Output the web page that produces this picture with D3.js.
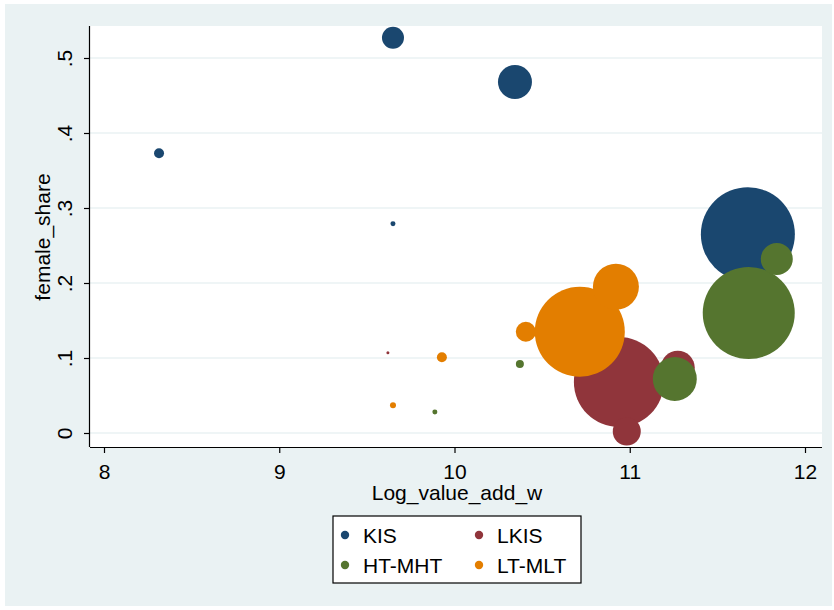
<!DOCTYPE html>
<html>
<head>
<meta charset="utf-8">
<script src="https://cdn.jsdelivr.net/npm/d3@7"></script>
<style>
  body { margin: 0; background: #fff; }
  text { font-family: "Liberation Sans", Arial, sans-serif; fill: #000; }
</style>
</head>
<body>
<script>
// groups in draw order (later ones sit on top)
var groups = ["KIS", "LKIS", "HT-MHT", "LT-MLT"];
var colors = ["#1a476f", "#90353b", "#55752f", "#e37e00"];

// log value added, female share, bubble weight
var kisX = [8.314, 9.649, 10.345, 9.649, 11.674];
var kisY = [0.373, 0.527, 0.468, 0.279, 0.265];
var kisW = [250, 1210, 2890, 62, 22090];

var lkisX = [9.62, 10.938, 10.983, 11.274];
var lkisY = [0.107, 0.068, 0.002, 0.087];
var lkisW = [22, 20250, 1960, 2890];

var htX = [9.888, 10.373, 11.257, 11.679, 11.839];
var htY = [0.028, 0.092, 0.072, 0.160, 0.232];
var htW = [62, 160, 4840, 21160, 2560];

var ltX = [9.649, 9.928, 10.407, 10.715, 10.921];
var ltY = [0.037, 0.101, 0.135, 0.135, 0.195];
var ltW = [90, 250, 1000, 20250, 5290];

var xTicks = [8, 9, 10, 11, 12];
var yTicks = [0, 0.1, 0.2, 0.3, 0.4, 0.5];
var yTickLabels = ["0", ".1", ".2", ".3", ".4", ".5"];

var width = 834, height = 610;
var plot = {left: 90, right: 822, top: 26, bottom: 447};
var fontSize = "21px";

var svg = d3.select("body").append("svg")
    .attr("width", width)
    .attr("height", height);

// outer graph region
svg.append("rect")
    .attr("x", 5).attr("y", 4)
    .attr("width", 827).attr("height", 602)
    .style("fill", "#eaf2f3");

svg.append("rect")
    .attr("x", plot.left).attr("y", plot.top)
    .attr("width", plot.right - plot.left).attr("height", plot.bottom - plot.top)
    .style("fill", "#fff");

var x = d3.scaleLinear().domain([8, 12]).range([104, 805]);
var y = d3.scaleLinear().domain([0, 0.5]).range([433, 58]);
var r = d3.scaleSqrt().domain([0, 22090]).range([0, 47]);

// gridlines
svg.append("g").selectAll("line")
    .data(yTicks)
  .enter().append("line")
    .attr("x1", plot.left).attr("x2", plot.right)
    .attr("y1", function(d) { return y(d); })
    .attr("y2", function(d) { return y(d); })
    .style("stroke", "#eaf2f3")
    .style("stroke-width", 1.6);

var series = [
  {name: groups[0], xs: kisX, ys: kisY, ws: kisW},
  {name: groups[1], xs: lkisX, ys: lkisY, ws: lkisW},
  {name: groups[2], xs: htX, ys: htY, ws: htW},
  {name: groups[3], xs: ltX, ys: ltY, ws: ltW}
];

series.forEach(function(s, i) {
  var pts = s.xs.map(function(v, j) { return {x: v, y: s.ys[j], w: s.ws[j]}; });
  svg.append("g").selectAll("circle")
      .data(pts)
    .enter().append("circle")
      .attr("cx", function(d) { return x(d.x); })
      .attr("cy", function(d) { return y(d.y); })
      .attr("r", function(d) { return Math.max(1.5, r(d.w)); })
      .style("fill", colors[i]);
});

// axes
var xAxis = svg.append("g")
    .attr("transform", "translate(0," + plot.bottom + ")")
    .call(d3.axisBottom(x).tickValues(xTicks).tickFormat(d3.format("d"))
      .tickSize(6).tickPadding(11).tickSizeOuter(0));
xAxis.select(".domain").attr("d", "M" + plot.left + ",0.5H" + plot.right);

var yAxis = svg.append("g")
    .attr("transform", "translate(" + plot.left + ",0)")
    .call(d3.axisLeft(y).tickValues(yTicks).tickSize(6).tickSizeOuter(0)
      .tickFormat(function(d, i) { return yTickLabels[i]; }));
yAxis.select(".domain").attr("d", "M-0.5," + plot.top + "V" + plot.bottom);

[xAxis, yAxis].forEach(function(a) {
  a.selectAll("path, line").style("stroke", "#000").style("stroke-width", 1.2);
  a.selectAll("text")
      .style("font-family", "Liberation Sans, Arial, sans-serif")
      .style("font-size", fontSize)
      .style("fill", "#000");
});

yAxis.selectAll(".tick text")
    .attr("x", null).attr("dy", null)
    .attr("text-anchor", "middle")
    .attr("transform", "translate(-18,0) rotate(-90)");

svg.append("text")
    .attr("x", 457).attr("y", 500)
    .attr("text-anchor", "middle")
    .style("font-size", fontSize)
    .text("Log_value_add_w");

svg.append("text")
    .attr("transform", "translate(50,237) rotate(-90)")
    .attr("text-anchor", "middle")
    .style("font-size", fontSize)
    .text("female_share");

// legend
var legend = svg.append("g").attr("transform", "translate(333,516)");
legend.append("rect")
    .attr("width", 248).attr("height", 67)
    .style("fill", "#fff").style("stroke", "#000").style("stroke-width", 1.2);

var item = legend.selectAll("g.item")
    .data(groups)
  .enter().append("g")
    .attr("class", "item")
    .attr("transform", function(d, i) {
      return "translate(" + (i % 2 ? 146 : 12) + "," + (i < 2 ? 19 : 49) + ")";
    });
item.append("circle")
    .attr("r", 4.2)
    .style("fill", function(d, i) { return colors[i]; });
item.append("text")
    .attr("x", 18).attr("y", 8)
    .style("font-size", fontSize)
    .text(function(d) { return d; });
</script>
</body>
</html>
